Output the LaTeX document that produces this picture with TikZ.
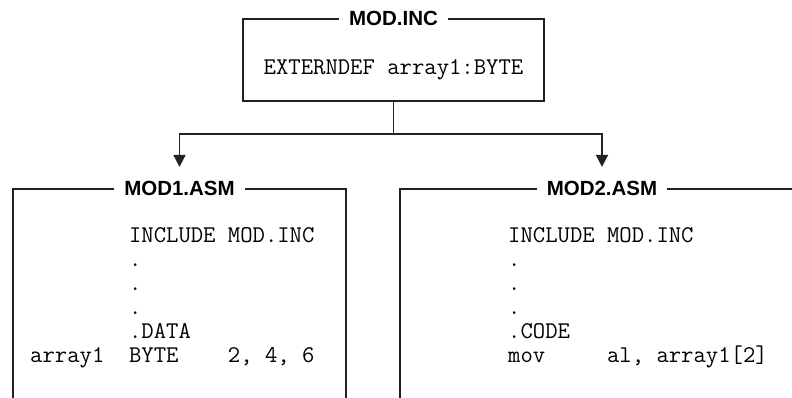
\documentclass[tikz,border=0pt]{standalone}
\usepackage{fontspec}
\setsansfont{Liberation Sans}
\usepackage{tikz}
\usetikzlibrary{arrows.meta, positioning}
\definecolor{ink}{HTML}{222222}

\begin{document}
\begin{tikzpicture}[
  x=1pt, y=1pt,
  box/.style={rectangle, draw=ink, line width=1.8pt, inner sep=0pt},
  title/.style={fill=white, inner xsep=10pt, inner ysep=0pt, text height=14pt, text depth=0pt, font=\sffamily\bfseries\fontsize{20.5}{24}\selectfont},
  code/.style={inner sep=0pt, align=left, font=\ttfamily\fontsize{24}{24}\selectfont},
  link/.style={draw=ink, line width=1.8pt},
  arrow/.style={link, -{Triangle[width=12pt, length=12pt]}, shorten >=14pt}
]
  \useasboundingbox (0,0) rectangle (792,398);
  \clip (0,0) rectangle (792,398);

  \node[box, minimum width=301pt, minimum height=82pt] (inc) at (393.5,338) {};
  \node[box, minimum width=333pt, minimum height=229pt] (mod1) at (179.5,94.5) {};
  \node[box, minimum width=420pt, minimum height=229pt] (mod2) at (610,94.5) {};

  \node[title] (inctitle) at (inc.north) {MOD.INC};
  \node[title] (mod1title) at (mod1.north) {MOD1.ASM};
  \node[title] (mod2title) at ([xshift=-8pt]mod2.north) {MOD2.ASM};

  % anchor base = baseline of the last line
  \node[code, anchor=base] (extdef) at ([yshift=-15pt]inc.center) {EXTERNDEF array1:BYTE};
  \node[code, anchor=base west] (mod1code) at (30,35) {%
    ~~~~~~~~INCLUDE MOD.INC\\
    ~~~~~~~~.\\
    ~~~~~~~~.\\
    ~~~~~~~~.\\
    ~~~~~~~~.DATA\\
    array1~~BYTE~~~~2, 4, 6};
  \node[code, anchor=base west] (mod2code) at (508,35) {%
    INCLUDE MOD.INC\\
    .\\
    .\\
    .\\
    .CODE\\
    mov~~~~~al, array1[2]};

  \coordinate (split) at ([yshift=-32pt]inc.south);
  \draw[link] (inc.south) -- (split);
  \draw[arrow] (split) -| (mod1title.north);
  \draw[arrow] (split) -| (mod2title.north);
\end{tikzpicture}
\end{document}
